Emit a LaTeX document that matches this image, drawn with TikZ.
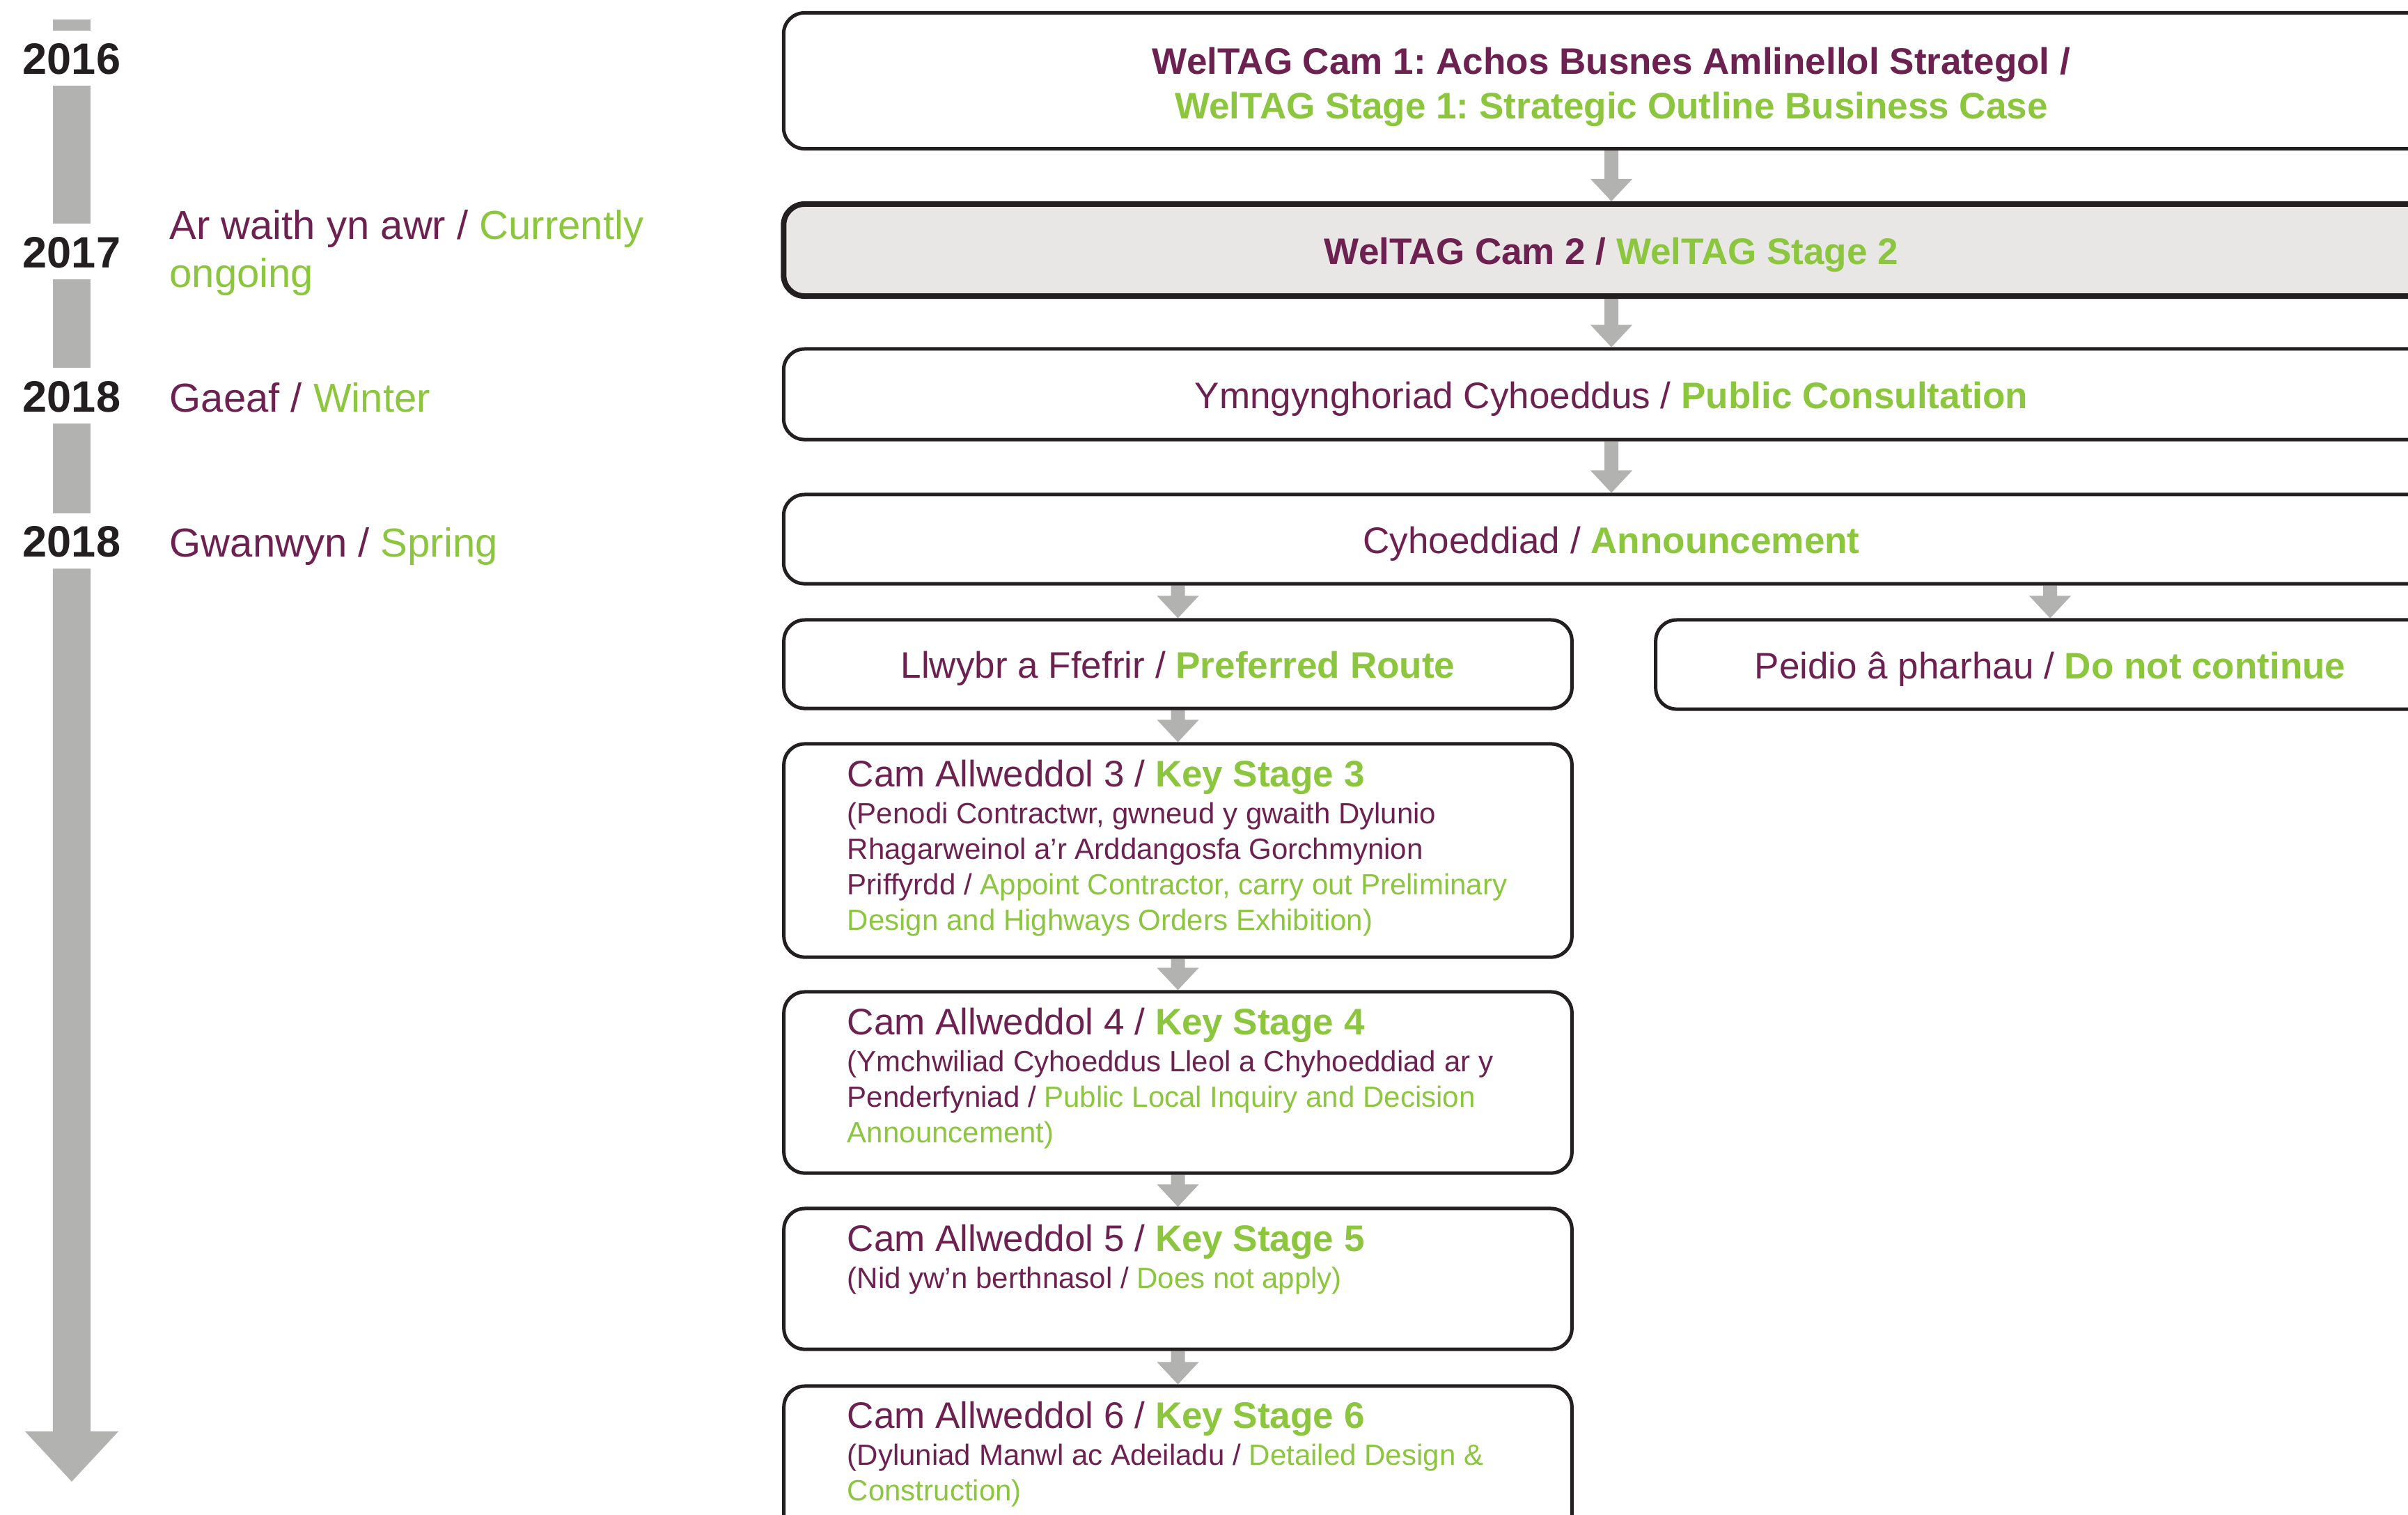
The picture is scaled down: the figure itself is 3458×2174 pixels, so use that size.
\documentclass[tikz,border=0pt]{standalone}
\usepackage{fontspec}
\setmainfont{Liberation Sans}
\usetikzlibrary{calc,backgrounds}
\frenchspacing
\definecolor{wpurple}{HTML}{6D2150}
\definecolor{wgreen}{HTML}{8CC63E}
\definecolor{bargray}{HTML}{B2B2B1}
\definecolor{boxfill}{HTML}{E8E7E6}
\definecolor{ink}{HTML}{231F20}
\newcommand\wpu[1]{\textcolor{wpurple}{#1}}
\newcommand\wgr[1]{\textcolor{wgreen}{#1}}
\newcommand\wgrb[1]{\textcolor{wgreen}{\bfseries #1}}
\newcommand\fmain{\fontsize{15.08pt}{18.21pt}\selectfont}
\newcommand\fsmall{\fontsize{11.95pt}{14.51pt}\selectfont}
\newcommand\fside{\fontsize{16.5pt}{19.63pt}\selectfont}
\newcommand\fyear{\fontsize{17.93pt}{20pt}\selectfont\bfseries}
% arrow: #1 from, #2 to, #3 shaft half width, #4 head half width, #5 head length
\newcommand\grayarrow[5]{%
  \fill[bargray] let \p1=(#1), \p2=(#2) in
    (\x1-#3,\y1) -- (\x1+#3,\y1) -- (\x1+#3,\y2+#5) -- (\x1+#4,\y2+#5)
    -- (\x1,\y2) -- (\x1-#4,\y2+#5) -- (\x1-#3,\y2+#5) -- cycle;}
\newcommand\flowarrow[2]{\grayarrow{#1}{#2}{0.10cm}{0.30cm}{0.32cm}}
\tikzset{
  wbox/.style={draw=ink, line width=0.05cm, rounded corners=0.3cm, fill=white,
    inner sep=0pt, font=\fmain, text=wpurple, text height=0.4cm, text depth=0cm},
  kstext/.style={inner sep=0pt, anchor=base west, text=wpurple},
  yearlbl/.style={inner xsep=0pt, inner ysep=0.16cm, text height=0.46cm, text depth=0cm,
    font=\fyear, text=ink},
  sidelbl/.style={inner sep=0pt, anchor=base west, font=\fside, text=wpurple},
  barseg/.style={draw=bargray, line width=0.54cm}
}
\begin{document}
\begin{tikzpicture}[x=0.01cm, y=-0.01cm]
\useasboundingbox (0,0) rectangle (3458,2174);
\clip (0,0) rectangle (3458,2174);

% timeline
\coordinate (bartop) at (103,28);
\coordinate (bartip) at (103,2127);
\node[yearlbl] (y16) at (103,83.5) {2016};
\node[yearlbl] (y17) at (103,361) {2017};
\node[yearlbl] (y18a) at (103,568) {2018};
\node[yearlbl] (y18b) at (103,776.5) {2018};
\draw[barseg] (bartop) -- (y16.north);
\draw[barseg] (y16.south) -- (y17.north);
\draw[barseg] (y17.south) -- (y18a.north);
\draw[barseg] (y18a.south) -- (y18b.north);
\grayarrow{y18b.south}{bartip}{0.27cm}{0.67cm}{0.72cm}

% side labels
\node[sidelbl] (l17) at (243,343) {\parbox[t]{8cm}{\raggedright\fside \wpu{Ar waith yn awr /} \wgr{Currently}\\ \wgr{ongoing}}};
\node[sidelbl] (l18a) at (243,591) {\wpu{Gaeaf /} \wgr{Winter}};
\node[sidelbl] (l18b) at (243,799) {\wpu{Gwanwyn /} \wgr{Spring}};

% main boxes
\node[wbox, minimum width=23.76cm, minimum height=1.95cm] (b1) at (2314,116) {};
\node[inner sep=0pt, anchor=base] (b1t) at (2314,106)
  {\parbox[t]{25cm}{\centering\fmain\bfseries \wpu{WelTAG Cam 1: Achos Busnes Amlinellol Strategol /}\\ \wgr{WelTAG Stage 1: Strategic Outline Business Case}}};
\node[wbox, line width=0.08cm, fill=boxfill, minimum width=23.76cm, minimum height=1.32cm] (b2) at (2314,359)
  {\bfseries \wpu{WelTAG Cam 2 /} \wgr{WelTAG Stage 2}};
\node[wbox, minimum width=23.76cm, minimum height=1.30cm] (b3) at (2314,566)
  {\wpu{Ymngynghoriad Cyhoeddus /} \wgrb{Public Consultation}};
\node[wbox, minimum width=23.76cm, minimum height=1.28cm] (b4) at (2314,774)
  {\wpu{Cyhoeddiad /} \wgrb{Announcement}};
\node[wbox, minimum width=11.31cm, minimum height=1.27cm] (pref) at (1691.5,953.5)
  {\wpu{Llwybr a Ffefrir /} \wgrb{Preferred Route}};
\node[wbox, minimum width=11.32cm, minimum height=1.28cm] (stop) at (2944,954)
  {\wpu{Peidio â pharhau /} \wgrb{Do not continue}};

% key stage boxes
\node[wbox, minimum width=11.31cm, minimum height=3.06cm] (ks3) at (1691.5,1221) {};
\node[wbox, minimum width=11.31cm, minimum height=2.60cm] (ks4) at (1691.5,1554) {};
\node[wbox, minimum width=11.31cm, minimum height=2.02cm] (ks5) at (1691.5,1836) {};
\node[wbox, minimum width=11.31cm, minimum height=2.60cm] (ks6) at (1691.5,2120) {};

\node[kstext] (ks3t) at ($(ks3.north west)+(93,64)$) {\parbox[t]{10.5cm}{\raggedright\fmain Cam Allweddol 3 / \wgrb{Key Stage 3}\par\vspace{0.6pt}\fsmall
 (Penodi Contractwr, gwneud y gwaith Dylunio\\
 Rhagarweinol a’r Arddangosfa Gorchmynion\\
 Priffyrdd / \wgr{Appoint Contractor, carry out Preliminary}\\
 \wgr{Design and Highways Orders Exhibition)}}};
\node[kstext] (ks4t) at ($(ks4.north west)+(93,64)$) {\parbox[t]{10.5cm}{\raggedright\fmain Cam Allweddol 4 / \wgrb{Key Stage 4}\par\vspace{0.6pt}\fsmall
 (Ymchwiliad Cyhoeddus Lleol a Chyhoeddiad ar y\\
 Penderfyniad / \wgr{Public Local Inquiry and Decision}\\
 \wgr{Announcement)}}};
\node[kstext] (ks5t) at ($(ks5.north west)+(93,64)$) {\parbox[t]{10.5cm}{\raggedright\fmain Cam Allweddol 5 / \wgrb{Key Stage 5}\par\vspace{0.6pt}\fsmall
 (Nid yw’n berthnasol / \wgr{Does not apply)}}};
\node[kstext] (ks6t) at ($(ks6.north west)+(93,63)$) {\parbox[t]{10.5cm}{\raggedright\fmain Cam Allweddol 6 / \wgrb{Key Stage 6}\par\vspace{0.6pt}\fsmall
 (Dyluniad Manwl ac Adeiladu / \wgr{Detailed Design \&}\\
 \wgr{Construction)}}};

% connectors
\begin{pgfonlayer}{background}
\flowarrow{b1.south}{b2.north}
\flowarrow{b2.south}{b3.north}
\flowarrow{b3.south}{b4.north}
\flowarrow{b4.south -| pref.north}{pref.north}
\flowarrow{b4.south -| stop.north}{stop.north}
\flowarrow{pref.south}{ks3.north}
\flowarrow{ks3.south}{ks4.north}
\flowarrow{ks4.south}{ks5.north}
\flowarrow{ks5.south}{ks6.north}
\end{pgfonlayer}
\end{tikzpicture}
\end{document}
